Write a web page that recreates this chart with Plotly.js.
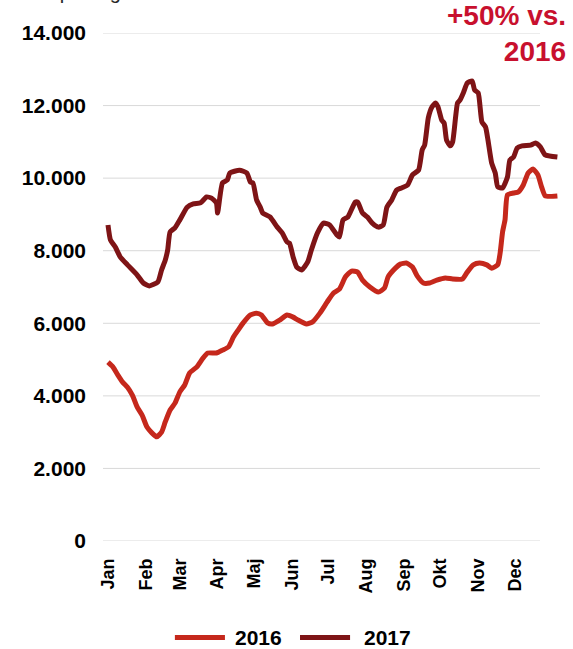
<!DOCTYPE html>
<html>
<head>
<meta charset="utf-8">
<script src="https://cdn.plot.ly/plotly-3.0.1.min.js"></script>
<style>html,body{margin:0;padding:0;background:#fff;}#chart{width:573px;height:649px;}</style>
</head>
<body>
<div id="chart"></div>
<script>
// Day of year (0 = 1 Jan) and values
const days2016 = [0,4,8,12,16,20,24,28,32,36,40,44,47,51,55,59,63,67,73,78,82,89,94,99,103,107,111,117,122,126,131,135,141,147,152,156,163,168,174,180,185,190,195,200,205,209,215,222,227,230,236,240,245,250,254,259,264,270,277,283,291,295,300,305,311,315,320,322,324,326,328,333,337,341,345,349,353,356,359,369];
const vals2016 = [4930,4800,4580,4380,4240,4020,3690,3470,3140,2980,2870,3000,3280,3610,3800,4110,4300,4630,4800,5040,5180,5180,5260,5350,5620,5820,6010,6230,6280,6230,6010,5980,6090,6230,6170,6090,5980,6040,6280,6590,6830,6940,7280,7440,7410,7190,7000,6860,6970,7280,7520,7630,7660,7550,7300,7110,7110,7190,7250,7220,7220,7410,7610,7660,7610,7520,7610,7940,8520,8850,9540,9590,9620,9810,10140,10250,10090,9760,9510,9510];

const days2017 = [0,2,6,10,16,24,29,34,41,44,47,49,51,55,59,65,70,76,81,85,89,90,94,98,100,108,114,117,119,122,125,127,133,139,143,147,149,152,155,159,164,167,172,177,182,188,190,193,197,203,205,209,213,217,222,226,229,233,237,241,246,250,255,258,260,263,266,269,271,274,276,278,281,283,287,289,292,295,299,301,304,307,310,312,315,318,320,324,328,330,333,336,340,347,351,355,359,369];
const vals2017 = [8710,8300,8100,7830,7610,7330,7110,7030,7140,7470,7740,8020,8520,8630,8850,9200,9290,9320,9480,9450,9320,9040,9870,9950,10140,10220,10140,9890,9870,9400,9200,9040,8930,8650,8490,8240,8210,7830,7550,7470,7690,8020,8490,8760,8710,8430,8380,8850,8930,9340,9340,9040,8930,8760,8650,8710,9200,9400,9670,9730,9810,10090,10220,10780,10910,11660,11960,12070,11960,11600,11520,11050,10890,11000,12070,12150,12370,12620,12680,12430,12350,11550,11410,11050,10420,10140,9760,9730,10030,10500,10580,10830,10890,10910,10970,10860,10640,10580];

const monthStarts = [0,31,59,90,120,151,181,212,243,273,304,334];
const monthLabels = ["Jan","Feb","Mar","Apr","Maj","Jun","Jul","Aug","Sep","Okt","Nov","Dec"];
const yTicks = [0,2000,4000,6000,8000,10000,12000,14000];
const seriesNames = ["2016","2017"];
const seriesColors = ["#C5281C","#7E1416"];

const FONT = "Liberation Sans, Arial, sans-serif";
const gridEnd = (540-103)/455;

const shapes = yTicks.map(v => ({
  type:"line", xref:"paper", yref:"y", x0:0, x1:gridEnd, y0:v, y1:v,
  line:{color:"#D9D9D9", width:1}, layer:"below"
}));

// custom legend
const legX = [[0.158,0.268],[0.433,0.543]];
const legTextX = [0.286,0.569];
const legY = -0.19;
legX.forEach((lx,i)=>{
  shapes.push({type:"line", xref:"paper", yref:"paper", x0:lx[0], x1:lx[1], y0:legY, y1:legY,
    line:{color:seriesColors[i], width:5}});
});

const annotations = [
  {xref:"paper", yref:"paper", x:1.022, y:1.068, xanchor:"right", yanchor:"top", align:"right",
   text:"+50% vs.<br>2016", showarrow:false,
   font:{family:FONT, size:28, color:"#C8102E", weight:"bold"}},
  {xref:"paper", yref:"paper", x:-0.182, y:1.056, xanchor:"left", yanchor:"bottom",
   text:"Ton pr. dag", showarrow:false,
   font:{family:FONT, size:20, color:"#262626"}}
];
seriesNames.forEach((n,i)=>{
  annotations.push({xref:"paper", yref:"paper", x:legTextX[i], y:legY, xanchor:"left", yanchor:"middle",
    text:n, showarrow:false, font:{family:FONT, size:21, color:"#000", weight:"bold"}});
});

const traces = [
  {x:days2016, y:vals2016, name:seriesNames[0], type:"scatter", mode:"lines",
   line:{color:seriesColors[0], width:5, shape:"spline", smoothing:0.5}},
  {x:days2017, y:vals2017, name:seriesNames[1], type:"scatter", mode:"lines",
   line:{color:seriesColors[1], width:5, shape:"spline", smoothing:0.5}}
];

const layout = {
  width:573, height:649,
  margin:{l:103, r:15, t:33, b:108},
  paper_bgcolor:"#fff", plot_bgcolor:"#fff",
  showlegend:false,
  separators:",.",
  xaxis:{range:[-4.1,369.5], tickvals:monthStarts, ticktext:monthLabels, tickangle:-90,
    showgrid:false, zeroline:false, showline:false, ticks:"", ticklabelstandoff:13,
    tickfont:{family:FONT, size:18, color:"#000", weight:"bold"}},
  yaxis:{range:[0,14000], tickvals:yTicks, tickformat:",d", showgrid:false, zeroline:false,
    showline:false, ticks:"", ticklabelstandoff:16,
    tickfont:{family:FONT, size:21, color:"#000", weight:"bold"}},
  shapes:shapes,
  annotations:annotations
};

Plotly.newPlot("chart", traces, layout, {staticPlot:true, displayModeBar:false});
</script>
</body>
</html>
